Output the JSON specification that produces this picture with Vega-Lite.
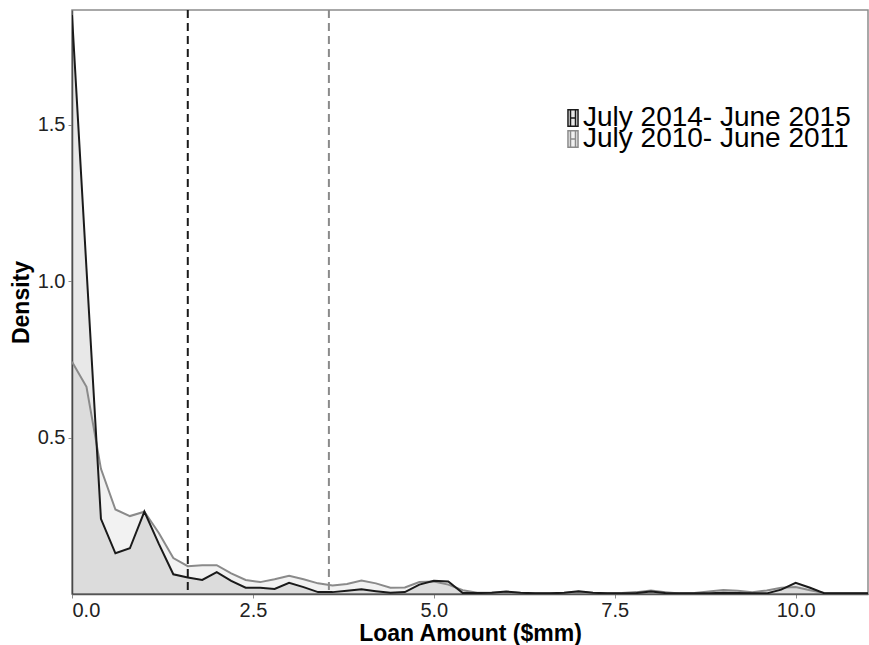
{
  "$schema": "https://vega.github.io/schema/vega-lite/v6.json",
  "width": 796,
  "height": 584,
  "autosize": "none",
  "padding": {"left": 72, "top": 10, "right": 1, "bottom": 51},
  "background": "white",
  "config": {
    "font": "Liberation Sans",
    "view": {"stroke": "#8c8c8c", "strokeWidth": 1.5},
    "axis": {
      "grid": false,
      "domainColor": "#555555",
      "domainWidth": 1.5,
      "tickColor": "#8c8c8c",
      "tickSize": 4,
      "labelFontSize": 20,
      "labelColor": "#222222",
      "titleFontSize": 23,
      "titleFontWeight": "bold",
      "titleColor": "#000000"
    },
    "legend": {
      "title": null,
      "orient": "none",
      "labelFontSize": 28,
      "labelColor": "#000000",
      "labelLimit": 400,
      "labelOffset": -4,
      "symbolType": "M-0.6,-1H0.6V1H-0.6Z M-0.3,-1V1 M0.3,-1V1 M-0.3,0H0.3",
      "symbolSize": 280,
      "symbolStrokeWidth": 1.5
    }
  },
  "datasets": {
    "dens": [
      {"x": 0.0, "s": "July 2010- June 2011", "d": 0.742},
      {"x": 0.2, "s": "July 2010- June 2011", "d": 0.662},
      {"x": 0.4, "s": "July 2010- June 2011", "d": 0.40},
      {"x": 0.6, "s": "July 2010- June 2011", "d": 0.27},
      {"x": 0.8, "s": "July 2010- June 2011", "d": 0.249},
      {"x": 1.0, "s": "July 2010- June 2011", "d": 0.263},
      {"x": 1.2, "s": "July 2010- June 2011", "d": 0.195},
      {"x": 1.4, "s": "July 2010- June 2011", "d": 0.115},
      {"x": 1.6, "s": "July 2010- June 2011", "d": 0.089},
      {"x": 1.8, "s": "July 2010- June 2011", "d": 0.092},
      {"x": 2.0, "s": "July 2010- June 2011", "d": 0.092},
      {"x": 2.2, "s": "July 2010- June 2011", "d": 0.066},
      {"x": 2.4, "s": "July 2010- June 2011", "d": 0.045},
      {"x": 2.6, "s": "July 2010- June 2011", "d": 0.038},
      {"x": 2.8, "s": "July 2010- June 2011", "d": 0.047},
      {"x": 3.0, "s": "July 2010- June 2011", "d": 0.058},
      {"x": 3.2, "s": "July 2010- June 2011", "d": 0.047},
      {"x": 3.4, "s": "July 2010- June 2011", "d": 0.034},
      {"x": 3.6, "s": "July 2010- June 2011", "d": 0.027},
      {"x": 3.8, "s": "July 2010- June 2011", "d": 0.032},
      {"x": 4.0, "s": "July 2010- June 2011", "d": 0.043},
      {"x": 4.2, "s": "July 2010- June 2011", "d": 0.034},
      {"x": 4.4, "s": "July 2010- June 2011", "d": 0.020},
      {"x": 4.6, "s": "July 2010- June 2011", "d": 0.021},
      {"x": 4.8, "s": "July 2010- June 2011", "d": 0.038},
      {"x": 5.0, "s": "July 2010- June 2011", "d": 0.040},
      {"x": 5.2, "s": "July 2010- June 2011", "d": 0.030},
      {"x": 5.4, "s": "July 2010- June 2011", "d": 0.012},
      {"x": 5.6, "s": "July 2010- June 2011", "d": 0.004},
      {"x": 5.8, "s": "July 2010- June 2011", "d": 0.004},
      {"x": 6.0, "s": "July 2010- June 2011", "d": 0.006},
      {"x": 6.2, "s": "July 2010- June 2011", "d": 0.003},
      {"x": 6.4, "s": "July 2010- June 2011", "d": 0.002},
      {"x": 6.6, "s": "July 2010- June 2011", "d": 0.002},
      {"x": 6.8, "s": "July 2010- June 2011", "d": 0.003},
      {"x": 7.0, "s": "July 2010- June 2011", "d": 0.007},
      {"x": 7.2, "s": "July 2010- June 2011", "d": 0.003},
      {"x": 7.4, "s": "July 2010- June 2011", "d": 0.002},
      {"x": 7.6, "s": "July 2010- June 2011", "d": 0.003},
      {"x": 7.8, "s": "July 2010- June 2011", "d": 0.006},
      {"x": 8.0, "s": "July 2010- June 2011", "d": 0.011},
      {"x": 8.2, "s": "July 2010- June 2011", "d": 0.006},
      {"x": 8.4, "s": "July 2010- June 2011", "d": 0.002},
      {"x": 8.6, "s": "July 2010- June 2011", "d": 0.003},
      {"x": 8.8, "s": "July 2010- June 2011", "d": 0.008},
      {"x": 9.0, "s": "July 2010- June 2011", "d": 0.013},
      {"x": 9.2, "s": "July 2010- June 2011", "d": 0.010},
      {"x": 9.4, "s": "July 2010- June 2011", "d": 0.006},
      {"x": 9.6, "s": "July 2010- June 2011", "d": 0.011},
      {"x": 9.8, "s": "July 2010- June 2011", "d": 0.020},
      {"x": 10.0, "s": "July 2010- June 2011", "d": 0.022},
      {"x": 10.2, "s": "July 2010- June 2011", "d": 0.012},
      {"x": 10.4, "s": "July 2010- June 2011", "d": 0.003},
      {"x": 10.6, "s": "July 2010- June 2011", "d": 0.002},
      {"x": 10.8, "s": "July 2010- June 2011", "d": 0.002},
      {"x": 11.0, "s": "July 2010- June 2011", "d": 0.002},
      {"x": 0.0, "s": "July 2014- June 2015", "d": 1.85},
      {"x": 0.2, "s": "July 2014- June 2015", "d": 1.04},
      {"x": 0.4, "s": "July 2014- June 2015", "d": 0.24},
      {"x": 0.6, "s": "July 2014- June 2015", "d": 0.13},
      {"x": 0.8, "s": "July 2014- June 2015", "d": 0.146},
      {"x": 1.0, "s": "July 2014- June 2015", "d": 0.263},
      {"x": 1.2, "s": "July 2014- June 2015", "d": 0.16},
      {"x": 1.4, "s": "July 2014- June 2015", "d": 0.063},
      {"x": 1.6, "s": "July 2014- June 2015", "d": 0.053},
      {"x": 1.8, "s": "July 2014- June 2015", "d": 0.045},
      {"x": 2.0, "s": "July 2014- June 2015", "d": 0.070},
      {"x": 2.2, "s": "July 2014- June 2015", "d": 0.042},
      {"x": 2.4, "s": "July 2014- June 2015", "d": 0.020},
      {"x": 2.6, "s": "July 2014- June 2015", "d": 0.020},
      {"x": 2.8, "s": "July 2014- June 2015", "d": 0.016},
      {"x": 3.0, "s": "July 2014- June 2015", "d": 0.036},
      {"x": 3.2, "s": "July 2014- June 2015", "d": 0.022},
      {"x": 3.4, "s": "July 2014- June 2015", "d": 0.006},
      {"x": 3.6, "s": "July 2014- June 2015", "d": 0.006},
      {"x": 3.8, "s": "July 2014- June 2015", "d": 0.010},
      {"x": 4.0, "s": "July 2014- June 2015", "d": 0.015},
      {"x": 4.2, "s": "July 2014- June 2015", "d": 0.009},
      {"x": 4.4, "s": "July 2014- June 2015", "d": 0.004},
      {"x": 4.6, "s": "July 2014- June 2015", "d": 0.006},
      {"x": 4.8, "s": "July 2014- June 2015", "d": 0.030},
      {"x": 5.0, "s": "July 2014- June 2015", "d": 0.042},
      {"x": 5.2, "s": "July 2014- June 2015", "d": 0.040},
      {"x": 5.4, "s": "July 2014- June 2015", "d": 0.003},
      {"x": 5.6, "s": "July 2014- June 2015", "d": 0.003},
      {"x": 5.8, "s": "July 2014- June 2015", "d": 0.004},
      {"x": 6.0, "s": "July 2014- June 2015", "d": 0.008},
      {"x": 6.2, "s": "July 2014- June 2015", "d": 0.004},
      {"x": 6.4, "s": "July 2014- June 2015", "d": 0.002},
      {"x": 6.6, "s": "July 2014- June 2015", "d": 0.002},
      {"x": 6.8, "s": "July 2014- June 2015", "d": 0.004},
      {"x": 7.0, "s": "July 2014- June 2015", "d": 0.009},
      {"x": 7.2, "s": "July 2014- June 2015", "d": 0.004},
      {"x": 7.4, "s": "July 2014- June 2015", "d": 0.002},
      {"x": 7.6, "s": "July 2014- June 2015", "d": 0.002},
      {"x": 7.8, "s": "July 2014- June 2015", "d": 0.003},
      {"x": 8.0, "s": "July 2014- June 2015", "d": 0.008},
      {"x": 8.2, "s": "July 2014- June 2015", "d": 0.003},
      {"x": 8.4, "s": "July 2014- June 2015", "d": 0.002},
      {"x": 8.6, "s": "July 2014- June 2015", "d": 0.002},
      {"x": 8.8, "s": "July 2014- June 2015", "d": 0.002},
      {"x": 9.0, "s": "July 2014- June 2015", "d": 0.004},
      {"x": 9.2, "s": "July 2014- June 2015", "d": 0.003},
      {"x": 9.4, "s": "July 2014- June 2015", "d": 0.002},
      {"x": 9.6, "s": "July 2014- June 2015", "d": 0.002},
      {"x": 9.8, "s": "July 2014- June 2015", "d": 0.014},
      {"x": 10.0, "s": "July 2014- June 2015", "d": 0.036},
      {"x": 10.2, "s": "July 2014- June 2015", "d": 0.020},
      {"x": 10.4, "s": "July 2014- June 2015", "d": 0.002},
      {"x": 10.6, "s": "July 2014- June 2015", "d": 0.002},
      {"x": 10.8, "s": "July 2014- June 2015", "d": 0.002},
      {"x": 11.0, "s": "July 2014- June 2015", "d": 0.002}
    ],
    "cutoffs": [
      {"x": 1.6, "s": "July 2014- June 2015"},
      {"x": 3.55, "s": "July 2010- June 2011"}
    ]
  },
  "layer": [
    {
      "data": {"name": "dens"},
      "mark": {"type": "area", "clip": true},
      "encoding": {
        "x": {
          "field": "x",
          "type": "quantitative",
          "scale": {"domain": [0, 11], "nice": false, "zero": false},
          "axis": {
            "title": "Loan Amount ($mm)",
            "values": [0, 2.5, 5, 7.5, 10],
            "format": ".1f",
            "labelPadding": 2,
            "titlePadding": 2
          }
        },
        "y": {
          "field": "d",
          "type": "quantitative",
          "stack": null,
          "scale": {"domain": [0, 1.866], "nice": false},
          "axis": {
            "title": "Density",
            "values": [0.5, 1, 1.5],
            "format": ".1f",
            "labelPadding": 3,
            "titlePadding": 4
          }
        },
        "fill": {
          "field": "s",
          "type": "nominal",
          "title": null,
          "scale": {
            "domain": ["July 2014- June 2015", "July 2010- June 2011"],
            "range": ["rgba(0,0,0,0.09)", "rgba(0,0,0,0.05)"]
          },
          "legend": {
            "values": ["July 2014- June 2015"],
            "legendX": 487,
            "legendY": 94,
            "symbolStrokeColor": "#1a1a1a"
          }
        }
      }
    },
    {
      "data": {"name": "dens"},
      "mark": {"type": "line", "strokeWidth": 2, "clip": true},
      "encoding": {
        "x": {"field": "x", "type": "quantitative"},
        "y": {"field": "d", "type": "quantitative"},
        "stroke": {
          "field": "s",
          "type": "nominal",
          "title": null,
          "scale": {
            "domain": ["July 2010- June 2011", "July 2014- June 2015"],
            "range": ["#8a8a8a", "#1a1a1a"]
          },
          "legend": {
            "values": ["July 2010- June 2011"],
            "legendX": 487,
            "legendY": 115,
            "symbolFillColor": "#f0f0f0"
          }
        }
      }
    },
    {
      "data": {"name": "cutoffs"},
      "mark": {"type": "rule", "strokeWidth": 2, "strokeDash": [8, 5]},
      "encoding": {
        "x": {"field": "x", "type": "quantitative"},
        "stroke": {"field": "s", "type": "nominal", "title": null}
      }
    }
  ]
}
